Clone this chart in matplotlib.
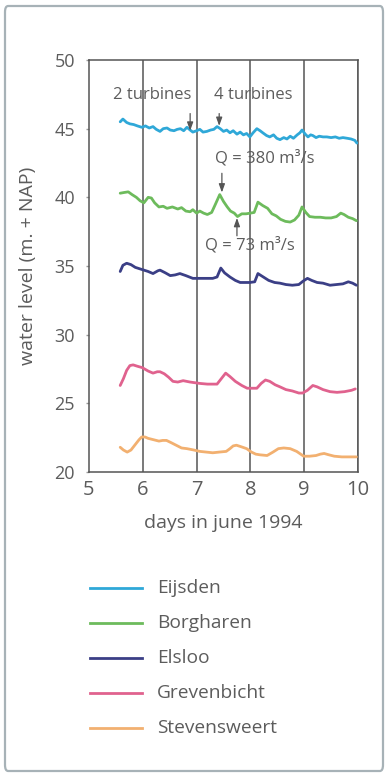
import matplotlib
matplotlib.use("Agg")
import matplotlib.pyplot as plt
from matplotlib.patches import FancyBboxPatch
from matplotlib.lines import Line2D

plt.rcParams["font.family"] = ["Open Sans", "DejaVu Sans"]

TEXT = "#5c5c5c"
AXC = "#555555"

# Water levels (m + NAP) per gauging station, days in June 1994
eijsden_x = [5.58, 5.63, 5.70, 5.76, 5.83, 5.90, 5.98, 6.05, 6.12, 6.19, 6.25, 6.32, 6.38,
             6.45, 6.51, 6.58, 6.64, 6.70, 6.76, 6.82, 6.88, 6.93, 7.00, 7.06, 7.12, 7.19,
             7.26, 7.32, 7.38, 7.44, 7.50, 7.56, 7.62, 7.68, 7.75, 7.81, 7.87, 7.93, 7.99,
             8.05, 8.12, 8.18, 8.23, 8.30, 8.36, 8.43, 8.49, 8.55, 8.62, 8.68, 8.74, 8.80,
             8.87, 8.92, 8.96, 9.02, 9.07, 9.12, 9.16, 9.22, 9.28, 9.35, 9.42, 9.50, 9.58,
             9.65, 9.72, 9.80, 9.87, 9.94, 9.98]
eijsden_y = [45.5, 45.7, 45.45, 45.35, 45.3, 45.2, 45.1, 45.2, 45.05, 45.15, 44.95, 44.8, 45.0,
             45.05, 44.9, 44.85, 44.95, 45.0, 44.85, 45.1, 44.9, 44.75, 44.85, 44.95, 44.75,
             44.8, 44.9, 44.95, 45.15, 45.0, 44.8, 44.9, 44.7, 44.85, 44.6, 44.75, 44.55,
             44.65, 44.4, 44.7, 45.0, 44.85, 44.7, 44.5, 44.4, 44.55, 44.3, 44.2, 44.35,
             44.25, 44.45, 44.3, 44.55, 44.7, 44.9, 44.6, 44.4, 44.55, 44.5, 44.35, 44.45,
             44.4, 44.4, 44.35, 44.4, 44.3, 44.35, 44.3, 44.25, 44.15, 43.95]

borgharen_x = [5.58, 5.65, 5.73, 5.80, 5.88, 5.95, 6.02, 6.10, 6.16, 6.22, 6.30, 6.38, 6.45,
               6.55, 6.65, 6.72, 6.80, 6.88, 6.93, 7.00, 7.06, 7.13, 7.20, 7.28, 7.35, 7.43,
               7.50, 7.57, 7.63, 7.70, 7.76, 7.84, 7.92, 8.00, 8.07, 8.14, 8.23, 8.32, 8.40,
               8.48, 8.56, 8.65, 8.74, 8.82, 8.90, 8.96, 9.03, 9.10, 9.20, 9.30, 9.40, 9.50,
               9.60, 9.68, 9.74, 9.82, 9.90, 9.97]
borgharen_y = [40.3, 40.35, 40.4, 40.2, 40.0, 39.75, 39.6, 40.0, 39.95, 39.6, 39.3, 39.35, 39.2,
               39.3, 39.15, 39.25, 39.0, 38.95, 39.1, 38.85, 39.0, 38.85, 38.75, 38.9, 39.5,
               40.2, 39.7, 39.3, 39.0, 38.85, 38.6, 38.8, 38.8, 38.85, 38.9, 39.65, 39.4,
               39.2, 38.8, 38.65, 38.4, 38.25, 38.2, 38.35, 38.7, 39.3, 38.9, 38.6, 38.55,
               38.55, 38.5, 38.5, 38.6, 38.85, 38.75, 38.55, 38.45, 38.3]

elsloo_x = [5.58, 5.63, 5.70, 5.78, 5.86, 5.98, 6.10, 6.19, 6.28, 6.32, 6.42, 6.51, 6.60,
            6.69, 6.80, 6.93, 7.06, 7.20, 7.30, 7.38, 7.45, 7.52, 7.62, 7.72, 7.81, 7.90,
            7.99, 8.08, 8.14, 8.24, 8.34, 8.45, 8.55, 8.66, 8.78, 8.90, 8.98, 9.06, 9.14,
            9.24, 9.35, 9.48, 9.60, 9.72, 9.82, 9.90, 9.97]
elsloo_y = [34.6, 35.05, 35.2, 35.1, 34.9, 34.75, 34.6, 34.45, 34.65, 34.7, 34.5, 34.3, 34.35,
            34.45, 34.3, 34.1, 34.1, 34.1, 34.1, 34.2, 34.85, 34.5, 34.2, 33.95, 33.8, 33.8,
            33.8, 33.85, 34.45, 34.2, 33.95, 33.8, 33.75, 33.65, 33.6, 33.65, 33.9, 34.1,
            33.95, 33.8, 33.75, 33.6, 33.65, 33.7, 33.85, 33.75, 33.6]

grevenbicht_x = [5.58, 5.64, 5.70, 5.76, 5.82, 5.90, 5.99, 6.10, 6.19, 6.27, 6.32, 6.40, 6.48,
                 6.56, 6.65, 6.75, 6.88, 7.06, 7.20, 7.38, 7.46, 7.54, 7.62, 7.72, 7.84,
                 7.94, 8.05, 8.12, 8.20, 8.28, 8.36, 8.46, 8.55, 8.66, 8.78, 8.90, 8.97,
                 9.06, 9.16, 9.24, 9.35, 9.48, 9.61, 9.75, 9.88, 9.95]
grevenbicht_y = [26.3, 26.8, 27.4, 27.75, 27.8, 27.7, 27.6, 27.35, 27.2, 27.3, 27.3, 27.15, 26.9,
                 26.6, 26.55, 26.65, 26.55, 26.45, 26.4, 26.4, 26.8, 27.2, 26.95, 26.6, 26.3,
                 26.1, 26.1, 26.1, 26.45, 26.7, 26.6, 26.35, 26.2, 26.0, 25.9, 25.75, 25.75,
                 25.95, 26.3, 26.2, 26.0, 25.85, 25.8, 25.85, 25.95, 26.05]

stevensweert_x = [5.58, 5.64, 5.71, 5.78, 5.86, 5.93, 5.98, 6.04, 6.10, 6.20, 6.30, 6.37, 6.44,
                  6.52, 6.62, 6.72, 6.82, 6.95, 7.06, 7.18, 7.30, 7.42, 7.55, 7.62, 7.68,
                  7.74, 7.82, 7.93, 8.02, 8.10, 8.18, 8.31, 8.42, 8.52, 8.62, 8.74, 8.86,
                  8.99, 9.10, 9.22, 9.30, 9.37, 9.46, 9.56, 9.70, 9.85, 9.97]
stevensweert_y = [21.8, 21.6, 21.45, 21.6, 22.0, 22.35, 22.55, 22.55, 22.45, 22.35, 22.25, 22.3, 22.3,
                  22.15, 21.95, 21.75, 21.7, 21.6, 21.5, 21.45, 21.4, 21.45, 21.5, 21.7, 21.9,
                  21.95, 21.85, 21.7, 21.45, 21.3, 21.25, 21.2, 21.45, 21.7, 21.75, 21.7, 21.5,
                  21.15, 21.15, 21.2, 21.3, 21.35, 21.25, 21.15, 21.1, 21.1, 21.1]

stations = ["Eijsden", "Borgharen", "Elsloo", "Grevenbicht", "Stevensweert"]
series = [(eijsden_x, eijsden_y), (borgharen_x, borgharen_y), (elsloo_x, elsloo_y),
          (grevenbicht_x, grevenbicht_y), (stevensweert_x, stevensweert_y)]
colors = ["#2fa8d8", "#6dbb5c", "#3b3f86", "#e0628e", "#f2b070"]

day_ticks = [5, 6, 7, 8, 9, 10]
level_ticks = [20, 25, 30, 35, 40, 45, 50]

W, H = 390, 776
fig = plt.figure(figsize=(W / 100, H / 100), dpi=100)
fig.patch.set_facecolor("white")

# panel frame around the whole figure
frame = FancyBboxPatch((5 / W, 5 / H), (378 / W), (765 / H),
                       boxstyle="round,pad=0,rounding_size=0.008",
                       transform=fig.transFigure, facecolor="none",
                       edgecolor="#a7b2b7", linewidth=1.6, zorder=0)
fig.patches.append(frame)

ax = fig.add_axes([89 / W, (H - 472) / H, (358 - 89) / W, (472 - 60) / H])
ax.set_facecolor("none")
ax.set_zorder(2)

for (xs, ys), c in zip(series, colors):
    ax.plot(xs, ys, color=c, lw=2.0, solid_capstyle="round", solid_joinstyle="round", zorder=3)

ax.set_xlim(5, 10)
ax.set_ylim(20, 50)
ax.set_xticks(day_ticks)
ax.set_yticks(level_ticks)
for d in day_ticks[1:]:
    ax.axvline(d, color=AXC, lw=1.1, zorder=2)

for s in ax.spines.values():
    s.set_color(AXC)
    s.set_linewidth(1.1)

ax.tick_params(axis="x", length=0, pad=6, labelsize=14.5, labelcolor=TEXT)
ax.tick_params(axis="y", length=2, width=1, color="#999999", pad=8, labelsize=13, labelcolor=TEXT)

ax.set_xlabel("days in june 1994", fontsize=14, color=TEXT)
ax.xaxis.set_label_coords(0.5, -0.102)
ax.set_ylabel("water level (m. + NAP)", fontsize=14, color=TEXT)
ax.yaxis.set_label_coords(-0.195, 0.5)

arrow = dict(arrowstyle="-|>,head_length=0.5,head_width=0.18", color="#555555", lw=0.9,
             shrinkA=0, shrinkB=0)
ax.annotate("", xy=(6.88, 44.85), xytext=(6.88, 46.1), arrowprops=arrow)
ax.annotate("", xy=(7.42, 45.2), xytext=(7.42, 46.1), arrowprops=arrow)
ax.annotate("", xy=(7.47, 40.35), xytext=(7.47, 41.75), arrowprops=arrow)
ax.annotate("", xy=(7.75, 38.5), xytext=(7.75, 37.2), arrowprops=arrow)

ax.text(6.17, 47.45, "2 turbines", ha="center", va="center", fontsize=12, color=TEXT, zorder=4)
ax.text(8.05, 47.45, "4 turbines", ha="center", va="center", fontsize=12, color=TEXT, zorder=4)
ax.text(8.27, 42.86, "Q = 380 m\u00b3/s", ha="center", va="center", fontsize=12, color=TEXT, zorder=4)
ax.text(7.99, 36.5, "Q = 73 m\u00b3/s", ha="center", va="center", fontsize=12, color=TEXT, zorder=4)

# legend drawn as figure-level lines and labels
rows = [588, 623, 658, 693, 728]
for name, c, yp in zip(stations, colors, rows):
    yf = (H - yp) / H
    fig.add_artist(Line2D([90 / W, 142 / W], [yf, yf], color=c, lw=2.0,
                          transform=fig.transFigure))
    fig.text(157 / W, yf, name, ha="left", va="center", fontsize=13.8, color=TEXT)

fig.savefig("out.png", dpi=100)
